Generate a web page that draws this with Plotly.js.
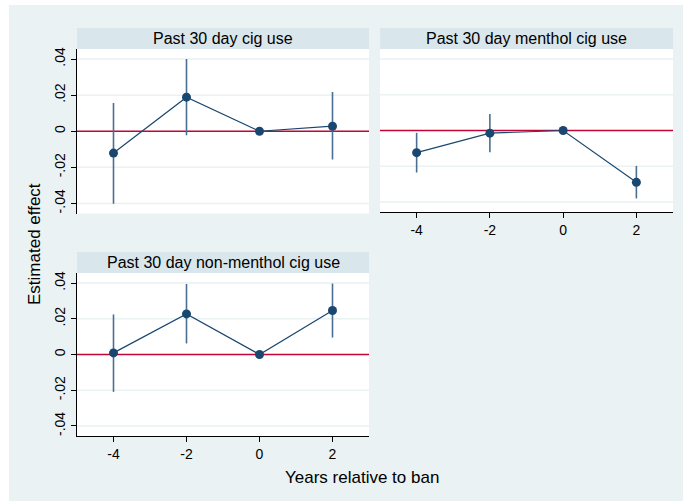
<!DOCTYPE html>
<html>
<head>
<meta charset="utf-8">
<script src="https://cdn.plot.ly/plotly-3.0.1.min.js"></script>
<style>html,body{margin:0;padding:0;background:#fff;}#chart{width:683px;height:501px;}</style>
</head>
<body>
<div id="chart"></div>
<script>
// Data
const years = [-4, -2, 0, 2];
const panelTitles = ["Past 30 day cig use", "Past 30 day menthol cig use", "Past 30 day non-menthol cig use"];
const cigEst   = [-0.0121, 0.0189, 0.0, 0.0028];
const cigHi    = [0.0157, 0.0400, 0.0, 0.0217];
const cigLo    = [-0.0402, -0.0022, 0.0, -0.0157];
const mentEst  = [-0.0124, -0.0015, 0.0, -0.0290];
const mentHi   = [-0.0013, 0.0093, 0.0, -0.0198];
const mentLo   = [-0.0235, -0.0121, 0.0, -0.0380];
const nonEst   = [0.0009, 0.0227, 0.0, 0.0246];
const nonHi    = [0.0224, 0.0395, 0.0, 0.0397];
const nonLo    = [-0.0209, 0.0062, 0.0, 0.0095];
const yTickVals = [0.04, 0.02, 0, -0.02, -0.04];
const yTickText = [".04", ".02", "0", "-.02", "-.04"];
const xTickVals = [-4, -2, 0, 2];
const xTickText = ["-4", "-2", "0", "2"];
const refLineValue = 0;
const xTitle = "Years relative to ban";
const yTitle = "Estimated effect";

const W = 683, H = 501;
const px = v => v / W;
const py = v => 1 - v / H;

const navy = "#1a476f";
const spike = "#4a6f92";
const red = "#c10534";
const font = "Liberation Sans, Arial, sans-serif";

function makeTrace(est, hi, lo, xa, ya) {
  return {
    x: years, y: est, xaxis: xa, yaxis: ya,
    type: "scatter", mode: "lines+markers",
    line: {color: navy, width: 1.2},
    marker: {color: navy, size: 9},
    error_y: {
      type: "data", symmetric: false,
      array: hi.map((h, i) => h - est[i]),
      arrayminus: lo.map((l, i) => est[i] - l),
      width: 0, thickness: 1.6, color: spike
    },
    cliponaxis: false,
    hoverinfo: "x+y", showlegend: false
  };
}

const traces = [
  makeTrace(cigEst, cigHi, cigLo, "x", "y"),
  makeTrace(mentEst, mentHi, mentLo, "x2", "y2"),
  makeTrace(nonEst, nonHi, nonLo, "x3", "y3")
];

const yr = [-0.0456, 0.0456];
const xr = [-5, 3];
const gridC = "#eaf2f3";

function yaxis(domain, showLine, anchor) {
  return {
    domain: domain, range: yr, anchor: anchor,
    tickvals: yTickVals, ticktext: yTickText,
    showticklabels: showLine, ticks: showLine ? "outside" : "",
    ticklen: 5, tickcolor: "#000", tickwidth: 1,
    tickangle: -90,
    showline: showLine, linecolor: "#000", linewidth: 1.2,
    showgrid: false, zeroline: false,
    tickfont: {family: font, size: 14, color: "#000"},
    fixedrange: true
  };
}
function xaxis(domain, showLine, anchor) {
  return {
    domain: domain, range: xr, anchor: anchor,
    tickvals: xTickVals, ticktext: xTickText,
    showticklabels: showLine, ticks: showLine ? "outside" : "",
    ticklen: 5, tickcolor: "#000", tickwidth: 1,
    showline: showLine, linecolor: "#000", linewidth: 1.2,
    showgrid: false, zeroline: false,
    tickfont: {family: font, size: 14, color: "#000"},
    fixedrange: true
  };
}

const xd1 = [px(77), px(369)];
const xd2 = [px(380), px(673)];
const yd1 = [py(213.5), py(49)];
const yd2 = [py(212), py(49)];
const yd3 = [py(436), py(273)];

const bandC = "#d9e6eb";

const shapes = [
  // white strips at top and left edges
  {type: "rect", xref: "paper", yref: "paper", x0: 0, x1: 1, y0: py(5), y1: 1, fillcolor: "#ffffff", line: {width: 0}, layer: "below"},
  {type: "rect", xref: "paper", yref: "paper", x0: 0, x1: px(9), y0: 0, y1: 1, fillcolor: "#ffffff", line: {width: 0}, layer: "below"},
  // subtitle bands
  {type: "rect", xref: "paper", yref: "paper", x0: xd1[0], x1: xd1[1], y0: py(49), y1: py(28), fillcolor: bandC, line: {width: 0}, layer: "below"},
  {type: "rect", xref: "paper", yref: "paper", x0: xd2[0], x1: xd2[1], y0: py(49), y1: py(28), fillcolor: bandC, line: {width: 0}, layer: "below"},
  {type: "rect", xref: "paper", yref: "paper", x0: xd1[0], x1: xd1[1], y0: py(273), y1: py(252), fillcolor: bandC, line: {width: 0}, layer: "below"}
];

// gridlines at tick values (except reference line), then red reference lines
[["x", "y"], ["x2", "y2"], ["x3", "y3"]].forEach(([xa, ya]) => {
  yTickVals.filter(v => v !== refLineValue).forEach(v => {
    shapes.push({type: "line", xref: xa + " domain", yref: ya, x0: 0, x1: 1, y0: v, y1: v,
                 line: {color: gridC, width: 1.5}, layer: "below"});
  });
});
[["x", "y"], ["x2", "y2"], ["x3", "y3"]].forEach(([xa, ya]) => {
  shapes.push({type: "line", xref: xa + " domain", yref: ya, x0: 0, x1: 1, y0: refLineValue, y1: refLineValue,
               line: {color: red, width: 1.3}, layer: "below"});
});

const annotations = [
  {text: panelTitles[0], xref: "paper", yref: "paper", x: (xd1[0] + xd1[1]) / 2, y: py(38.5), showarrow: false, xanchor: "center", yanchor: "middle", font: {family: font, size: 16, color: "#000"}},
  {text: panelTitles[1], xref: "paper", yref: "paper", x: (xd2[0] + xd2[1]) / 2, y: py(38.5), showarrow: false, xanchor: "center", yanchor: "middle", font: {family: font, size: 16, color: "#000"}},
  {text: panelTitles[2], xref: "paper", yref: "paper", x: (xd1[0] + xd1[1]) / 2, y: py(262.5), showarrow: false, xanchor: "center", yanchor: "middle", font: {family: font, size: 16, color: "#000"}},
  {text: xTitle, xref: "paper", yref: "paper", x: px(362), y: py(477), showarrow: false, xanchor: "center", yanchor: "middle", font: {family: font, size: 17, color: "#000"}},
  {text: yTitle, xref: "paper", yref: "paper", x: px(34), y: py(244), showarrow: false, textangle: -90, xanchor: "center", yanchor: "middle", font: {family: font, size: 17, color: "#000"}}
];

const layout = {
  width: W, height: H,
  margin: {l: 0, r: 0, t: 0, b: 0, pad: 0},
  paper_bgcolor: "#eaf2f3",
  plot_bgcolor: "#ffffff",
  showlegend: false,
  font: {family: font, color: "#000"},
  xaxis: xaxis(xd1, false, "y"),
  yaxis: yaxis(yd1, true, "x"),
  xaxis2: xaxis(xd2, true, "y2"),
  yaxis2: yaxis(yd2, false, "x2"),
  xaxis3: xaxis(xd1, true, "y3"),
  yaxis3: yaxis(yd3, true, "x3"),
  shapes: shapes,
  annotations: annotations
};

Plotly.newPlot("chart", traces, layout, {displayModeBar: false, staticPlot: true});
</script>
</body>
</html>
